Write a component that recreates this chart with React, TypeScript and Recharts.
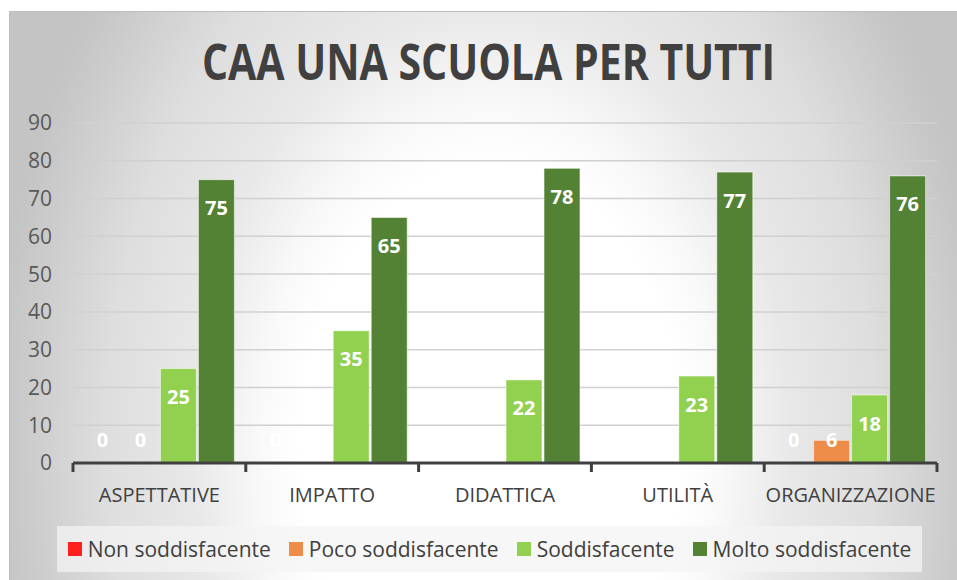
import React from 'react';
import { BarChart, Bar, XAxis, YAxis, CartesianGrid, LabelList, Cell } from 'recharts';

const categories = ['ASPETTATIVE', 'IMPATTO', 'DIDATTICA', 'UTILITÀ', 'ORGANIZZAZIONE'];
const nonSoddisfacente = [0, 0, 0, 0, 0];
const pocoSoddisfacente = [0, 0, 0, 0, 6];
const soddisfacente = [25, 35, 22, 23, 18];
const moltoSoddisfacente = [75, 65, 78, 77, 76];
const yTicks = [0, 10, 20, 30, 40, 50, 60, 70, 80, 90];

const title = 'CAA UNA SCUOLA PER TUTTI';

const series = [
  { key: 'non', name: 'Non soddisfacente', color: '#FF1F1F', values: nonSoddisfacente },
  { key: 'poco', name: 'Poco soddisfacente', color: '#EE8C4A', values: pocoSoddisfacente },
  { key: 'sodd', name: 'Soddisfacente', color: '#92D050', values: soddisfacente },
  { key: 'molto', name: 'Molto soddisfacente', color: '#548235', values: moltoSoddisfacente },
];

const data = categories.map((c, i) => ({
  cat: c,
  non: nonSoddisfacente[i],
  poco: pocoSoddisfacente[i],
  sodd: soddisfacente[i],
  molto: moltoSoddisfacente[i],
}));

const FONT = "'Open Sans', 'Noto Sans', sans-serif";

const renderLabel = (props: any) => {
  const vb = props.viewBox || {};
  const x = Number(props.x ?? vb.x);
  const y = Number(props.y ?? vb.y);
  const width = Number(props.width ?? vb.width ?? 0);
  const height = Number(props.height ?? vb.height ?? 0);
  const { value } = props;
  if (!isFinite(x) || !isFinite(y)) return null;
  const cy = Math.min(y + 28, y + (isFinite(height) ? height : 0) - 24);
  return (
    <text
      x={x + width / 2}
      y={cy}
      textAnchor="middle"
      dominantBaseline="central"
      fill="#ffffff"
      fontWeight="bold"
      fontSize={20}
      fontFamily={FONT}
    >
      {value}
    </text>
  );
};

const XTick = (props: any) => {
  const { x, y, payload, index, visibleTicksCount, width } = props;
  const half =
    payload && payload.offset ? payload.offset : (width || 864) / ((visibleTicksCount || 5) * 2);
  const isLast = index === (visibleTicksCount || categories.length) - 1;
  return (
    <g>
      <line x1={x - half} y1={y} x2={x - half} y2={y + 9} stroke="#404040" strokeWidth={3} />
      {isLast && (
        <line x1={x + half} y1={y} x2={x + half} y2={y + 9} stroke="#404040" strokeWidth={3} />
      )}
      <text
        x={x}
        y={y + 31}
        textAnchor="middle"
        dominantBaseline="central"
        fill="#404040"
        fontSize={20}
        fontFamily={FONT}
      >
        {payload.value}
      </text>
    </g>
  );
};

export default function App() {
  return (
    <div
      style={{
        position: 'absolute',
        left: 0,
        top: 0,
        width: 957,
        height: 580,
        overflow: 'hidden',
        background: '#ffffff',
      }}
    >
      <div
        style={{
          position: 'absolute',
          left: 9,
          top: 11,
          width: 980,
          height: 600,
          borderTop: '1px solid #bdbdbd',
          borderLeft: '1px solid #bdbdbd',
          background:
            'radial-gradient(ellipse 500px 725px at 481px 429px, #ffffff 0%, #ffffff 38%, #f9f9f9 46%, #e8e8e8 60%, #dedede 77%, #c9c9c9 95%, #c4c4c4 100%)',
        }}
      />
      <div
        style={{
          position: 'absolute',
          left: 10,
          top: 31,
          width: 957,
          textAlign: 'center',
          fontFamily: FONT,
          fontWeight: 'bold',
          fontSize: 50,
          lineHeight: '60px',
          color: '#404040',
          whiteSpace: 'nowrap',
        }}
      >
        <span style={{ display: 'inline-block', transform: 'scaleX(0.82)' }}>{title}</span>
      </div>
      <div style={{ position: 'absolute', left: 0, top: 0 }}>
        <BarChart
          width={957}
          height={580}
          data={data}
          margin={{ top: 123, right: 20, bottom: 77, left: 0 }}
          barCategoryGap="6.6%"
          barGap={2}
        >
          <CartesianGrid vertical={false} stroke="#d0d0d0" strokeWidth={1.5} />
          <YAxis
            width={73}
            domain={[0, 90]}
            ticks={yTicks}
            interval={0}
            axisLine={false}
            tickLine={false}
            tickSize={0}
            tickMargin={21}
            tick={{ fill: '#595959', fontSize: 21, fontFamily: FONT }}
          />
          <XAxis
            dataKey="cat"
            height={40}
            interval={0}
            axisLine={{ stroke: '#404040', strokeWidth: 3 }}
            tickLine={false}
            tickSize={0}
            tickMargin={0}
            tick={<XTick />}
          />
          {series.map((s) => (
            <Bar
              key={s.key}
              dataKey={s.key}
              name={s.name}
              fill={s.color}
              stroke="#ffffff"
              strokeOpacity={0.55}
              strokeWidth={1}
              minPointSize={1}
              isAnimationActive={false}
            >
              {s.values.map((v, i) => (
                <Cell
                  key={`c-${i}`}
                  fill={v === 0 ? 'transparent' : s.color}
                  stroke={v === 0 ? 'none' : '#ffffff'}
                />
              ))}
              <LabelList dataKey={s.key} content={renderLabel} />
            </Bar>
          ))}
        </BarChart>
      </div>
      <div
        style={{
          position: 'absolute',
          left: 57,
          top: 526,
          width: 865,
          height: 46,
          background: 'rgba(244,244,244,0.72)',
          display: 'flex',
          alignItems: 'center',
          justifyContent: 'center',
          gap: 18,
          fontFamily: FONT,
          fontSize: 21,
          color: '#404040',
        }}
      >
        {series.map((s) => (
          <div key={s.key} style={{ display: 'flex', alignItems: 'center' }}>
            <span
              style={{
                display: 'inline-block',
                width: 14,
                height: 14,
                background: s.color,
                marginRight: 6,
              }}
            />
            <span>{s.name}</span>
          </div>
        ))}
      </div>
    </div>
  );
}
